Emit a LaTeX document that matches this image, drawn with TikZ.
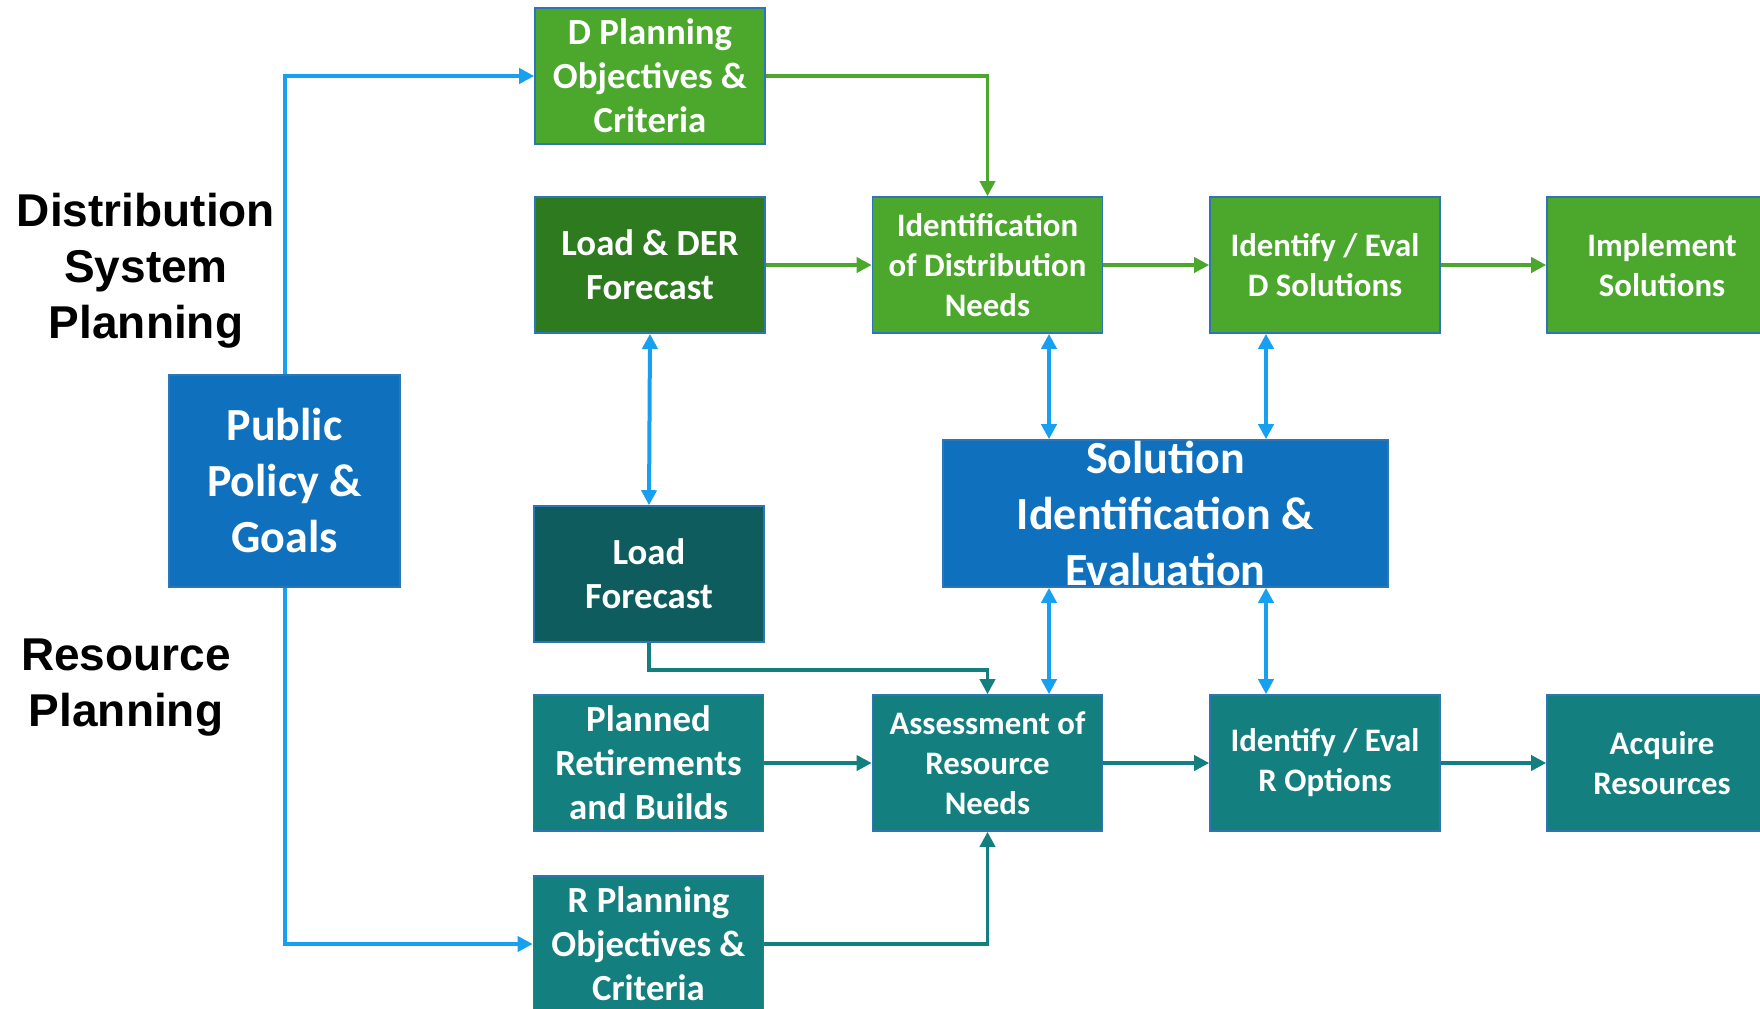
\documentclass[tikz,border=0pt]{standalone}
\usepackage{fontspec}
\setmainfont{Carlito}
\newfontfamily\sidefont{Liberation Sans}
\usepackage{xcolor}
\usetikzlibrary{arrows.meta,calc,positioning}

\definecolor{dgreen}{HTML}{4BA82C}
\definecolor{forestgreen}{HTML}{2E7A1F}
\definecolor{rteal}{HTML}{13807F}
\definecolor{deepteal}{HTML}{0E5C5E}
\definecolor{policyblue}{HTML}{0F71BD}
\definecolor{linkblue}{HTML}{17A0EF}
\definecolor{boxedge}{HTML}{2E75B6}

\begin{document}
\begin{tikzpicture}[
  x=0.5pt,y=-0.5pt,
  >={Triangle[length=7.5pt,width=7.5pt]},
  every node/.style={align=center,text=white},
  stage/.style={draw=boxedge,line width=0.8pt,inner sep=1pt,
                minimum width=115pt,minimum height=68pt},
  bigtext/.style={font=\bfseries\fontsize{18.4}{22}\selectfont},
  smalltext/.style={font=\bfseries\fontsize{16.4}{20}\selectfont},
  hubtext/.style={font=\bfseries\fontsize{23}{28}\selectfont},
  sidelabel/.style={text=black,font=\sidefont\bfseries\fontsize{23}{28}\selectfont},
  gflow/.style={->,draw=dgreen,line width=1.8pt},
  tflow/.style={->,draw=rteal,line width=1.8pt},
  bflow/.style={->,draw=linkblue,line width=2pt},
  bothflow/.style={<->,draw=linkblue,line width=2pt}
]
  \useasboundingbox (0,0) rectangle (1760,1008);
  \clip (0,0) rectangle (1760,1008);

  % side labels
  \node[sidelabel] (dsplabel) at (146,271) {Distribution\\System\\Planning};
  \node[sidelabel] (rplabel) at (126,688) {Resource\\Planning};

  % distribution row
  \node[stage,bigtext,fill=dgreen] (dplan) at (650,76)
    {D Planning\\Objectives \&\\Criteria};
  \node[stage,bigtext,fill=forestgreen] (loadder) at (650,265)
    {Load \& DER\\Forecast};
  \node[stage,smalltext,fill=dgreen] (dneeds) at (987.5,265)
    {Identification\\of Distribution\\Needs};
  \node[stage,smalltext,fill=dgreen] (dsol) at (1325,265)
    {Identify / Eval\\D Solutions};
  \node[stage,smalltext,fill=dgreen] (implement) at (1662,265)
    {Implement\\Solutions};

  % hubs
  \node[stage,hubtext,fill=policyblue,minimum width=115.5pt,
        minimum height=106pt] (policy) at (284.5,481)
    {Public\\Policy \&\\Goals};
  \node[stage,hubtext,fill=policyblue,minimum width=222.5pt,
        minimum height=73.5pt,inner sep=0pt] (solution) at (1165.5,513.5)
    {Solution\\Identification \&\\Evaluation};

  % resource row
  \node[stage,bigtext,fill=deepteal] (loadfc) at (649,574)
    {Load\\Forecast};
  \node[stage,bigtext,fill=rteal] (planned) at (648.5,763)
    {Planned\\Retirements\\and Builds};
  \node[stage,smalltext,fill=rteal] (rneeds) at (987.5,763)
    {Assessment of\\Resource\\Needs};
  \node[stage,smalltext,fill=rteal] (ropt) at (1325,763)
    {Identify / Eval\\R Options};
  \node[stage,smalltext,fill=rteal] (acquire) at (1662,763)
    {Acquire\\Resources};
  \node[stage,bigtext,fill=rteal] (rplan) at (648.5,944)
    {R Planning\\Objectives \&\\Criteria};

  % policy feeds
  \draw[bflow] (policy.north) |- (dplan.west);
  \draw[bflow] (policy.south) |- (rplan.west);

  % distribution flow
  \draw[gflow] (dplan.east) -| (dneeds.north);
  \draw[gflow] (loadder.east) -- (dneeds.west);
  \draw[gflow] (dneeds.east) -- (dsol.west);
  \draw[gflow] (dsol.east) -- (implement.west);

  % resource flow
  \draw[tflow] (loadfc.south) -- ++(0,27) -| (rneeds.north);
  \draw[tflow] (planned.east) -- (rneeds.west);
  \draw[tflow] (rneeds.east) -- (ropt.west);
  \draw[tflow] (ropt.east) -- (acquire.west);
  \draw[tflow] (rplan.east) -| (rneeds.south);

  % exchanges with the solution hub
  \draw[bothflow] (loadder.south) -- (loadfc.north);
  \draw[bothflow] ([xshift=30.75pt]dneeds.south) -- ([xshift=30.75pt]dneeds.south |- solution.north);
  \draw[bothflow] ([xshift=-29.5pt]dsol.south) -- ([xshift=-29.5pt]dsol.south |- solution.north);
  \draw[bothflow] ([xshift=30.75pt]rneeds.north |- solution.south) -- ([xshift=30.75pt]rneeds.north);
  \draw[bothflow] ([xshift=-29.5pt]ropt.north |- solution.south) -- ([xshift=-29.5pt]ropt.north);
\end{tikzpicture}
\end{document}
